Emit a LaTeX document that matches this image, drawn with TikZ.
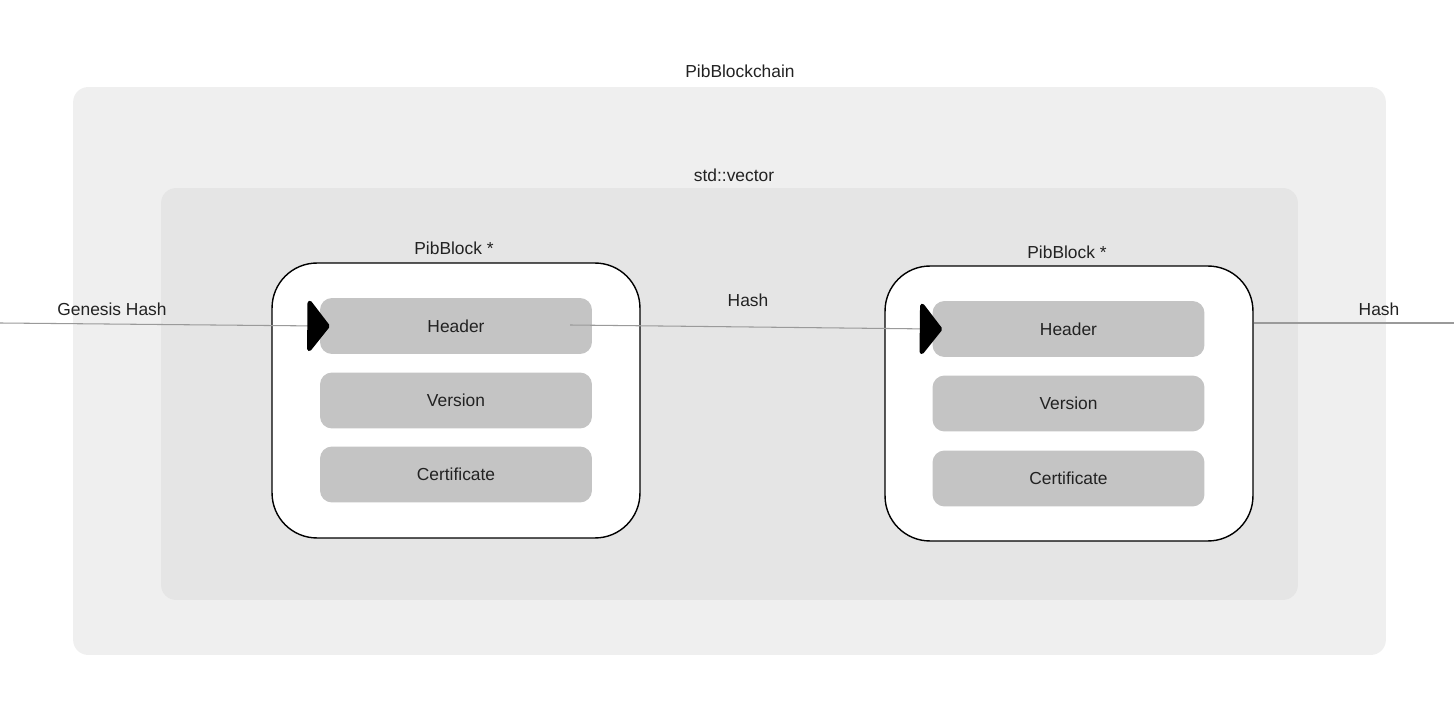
\documentclass[tikz,border=0pt]{standalone}
\usepackage{fontspec}
\setmainfont{Liberation Sans}
\usetikzlibrary{arrows.meta,calc,positioning}
\definecolor{chainfill}{HTML}{EFEFEF}
\definecolor{vecfill}{HTML}{E5E5E5}
\definecolor{fieldfill}{HTML}{C4C4C4}
\definecolor{linkgray}{HTML}{9A9A9A}
\definecolor{inkgray}{HTML}{222222}

\begin{document}
\begin{tikzpicture}[x=0.02cm,y=-0.02cm,
    font=\fontsize{9.9}{11}\selectfont, text=inkgray]
    \tikzset{ChainStyle/.style = {fill=chainfill, rounded corners=0.3cm,
        minimum width=26.26cm, minimum height=11.36cm, inner sep=0pt},
      VecStyle/.style = {fill=vecfill, rounded corners=0.3cm,
        minimum width=22.74cm, minimum height=8.24cm, inner sep=0pt},
      BlockStyle/.style = {draw=black, line width=0.8pt, fill=white,
        rounded corners=0.9cm, minimum width=7.36cm, minimum height=5.5cm, inner sep=0pt},
      FieldStyle/.style = {fill=fieldfill, rounded corners=0.24cm,
        minimum width=5.44cm, minimum height=1.12cm, inner sep=0pt, text depth=-1pt},
      LinkStyle/.style = {draw=linkgray, line width=0.6pt,
        -{Triangle[length=0.46cm, width=1.16cm, round, line width=2.5pt, color=black, fill=black]}},
      LineStyle/.style = {draw=linkgray, line width=0.6pt}}
    \useasboundingbox (0,0) rectangle (1454,719);
    % containers
    \node[ChainStyle] (chain) at (729.5,371) {};
    \node (chainlbl) at (740,71) {PibBlockchain};
    \node[VecStyle] (vec) at (729.5,394) {};
    \node (veclbl) at (734,175) {std::vector};
    % first block
    \node[BlockStyle] (blockA) at (456,400.5) {};
    \node (blockAlbl) at (454,248) {PibBlock *};
    \node[FieldStyle] (headA) at (456,326) {Header};
    \node[FieldStyle] (versA) at (456,400.5) {Version};
    \node[FieldStyle] (certA) at (456,474.5) {Certificate};
    % second block
    \node[BlockStyle] (blockB) at (1069,403.5) {};
    \node (blockBlbl) at (1067,252) {PibBlock *};
    \node[FieldStyle] (headB) at (1068.5,329) {Header};
    \node[FieldStyle] (versB) at (1068.5,403.5) {Version};
    \node[FieldStyle] (certB) at (1068.5,478.5) {Certificate};
    % hash links
    \coordinate (genesis) at (0,323);
    \coordinate (hashout) at (570,325);
    \coordinate (hashend) at (1454,323);
    \draw[LinkStyle, shorten >=-0.2cm] (genesis) -- (headA.west);
    \draw[LinkStyle, shorten >=-0.2cm] (hashout) -- (headB.west);
    \draw[LineStyle] (hashend -| blockB.east) -- (hashend);
    \node (genlbl) at (112,309) {Genesis Hash};
    \node (hashlbl) at (748,300) {Hash};
    \node (endlbl) at (1379,309) {Hash};
\end{tikzpicture}
\end{document}
